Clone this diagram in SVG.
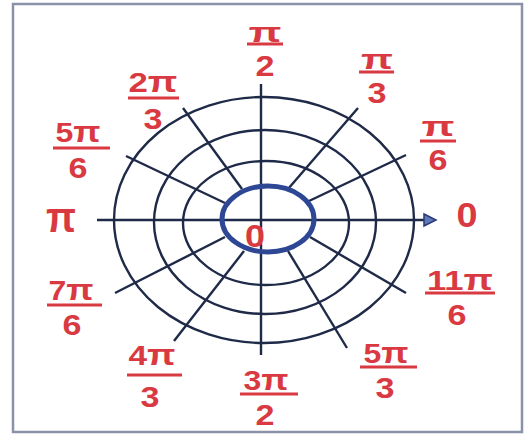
<svg xmlns="http://www.w3.org/2000/svg" width="531" height="437" viewBox="0 0 531 437">
<defs>
<style>
.grid{fill:none;stroke:#1f2a48;stroke-width:2.4}
.spoke{stroke:#1f2a48;stroke-width:2.4;fill:none}
.lbl{font-family:"Liberation Sans","Open Sans",sans-serif;font-weight:bold;fill:#d93a42;text-anchor:middle}
.num{font-size:27px}
.p{font-size:30px}
.den{font-size:29px}
.bar{stroke:#d93a42;stroke-width:3}
</style>
</defs>
<rect x="0" y="0" width="531" height="437" fill="#ffffff"/>
<rect x="13" y="4" width="509" height="428" fill="none" stroke="#8a92aa" stroke-width="2.5"/>
<g id="grid">
<ellipse class="grid" cx="264" cy="220" rx="150" ry="123"/>
<ellipse class="grid" cx="265" cy="222" rx="111" ry="92"/>
<ellipse class="grid" cx="266" cy="223" rx="83" ry="62"/>
</g>
<g id="connectors">
<line class="spoke" x1="97" y1="220" x2="428" y2="220"/>
<path d="M424 214 L436 220 L424 226 Z" fill="#5d78bb" stroke="#2a3a72" stroke-width="1.5"/>
<line class="spoke" x1="261" y1="84" x2="261" y2="355"/>
<line class="spoke" x1="183" y1="108" x2="242" y2="189"/>
<line class="spoke" x1="358" y1="108" x2="288" y2="189"/>
<line class="spoke" x1="126" y1="156" x2="225" y2="203"/>
<line class="spoke" x1="406" y1="155" x2="309" y2="201"/>
<line class="spoke" x1="115" y1="293" x2="225" y2="237"/>
<line class="spoke" x1="406" y1="293" x2="310" y2="237"/>
<line class="spoke" x1="174" y1="341" x2="244" y2="251"/>
<line class="spoke" x1="347" y1="348" x2="288" y2="251"/>
</g>
<g id="pole">
<ellipse cx="268" cy="219" rx="46" ry="33" fill="none" stroke="#2e4795" stroke-width="5"/>
<text class="lbl" x="255" y="247" font-size="31" textLength="20" lengthAdjust="spacingAndGlyphs">0</text>
</g>
<g id="l-pi2">
<text class="lbl num" x="265" y="42" textLength="33" lengthAdjust="spacingAndGlyphs">π</text>
<line class="bar" x1="247" y1="44" x2="283" y2="44"/>
<text class="lbl den" x="265" y="76" textLength="19" lengthAdjust="spacingAndGlyphs">2</text>
</g>
<g id="l-pi3">
<text class="lbl num" x="377" y="69" textLength="32" lengthAdjust="spacingAndGlyphs">π</text>
<line class="bar" x1="359" y1="72" x2="394" y2="72"/>
<text class="lbl den" x="377" y="103" textLength="19" lengthAdjust="spacingAndGlyphs">3</text>
</g>
<g id="l-pi6">
<text class="lbl num" x="438" y="136" textLength="33" lengthAdjust="spacingAndGlyphs">π</text>
<line class="bar" x1="420" y1="141" x2="456" y2="141"/>
<text class="lbl den" x="438" y="170" textLength="19" lengthAdjust="spacingAndGlyphs">6</text>
</g>
<g id="l-0">
<text class="lbl" x="467" y="227" font-size="35" textLength="21" lengthAdjust="spacingAndGlyphs">0</text>
</g>
<g id="l-pi">
<text class="lbl" x="61" y="232" font-size="42" textLength="30" lengthAdjust="spacingAndGlyphs">π</text>
</g>
<g id="l-2pi3">
<text class="lbl num" x="153" y="92" textLength="49" lengthAdjust="spacingAndGlyphs">2<tspan class="p">π</tspan></text>
<line class="bar" x1="128" y1="98" x2="179" y2="98"/>
<text class="lbl den" x="153" y="129" textLength="19" lengthAdjust="spacingAndGlyphs">3</text>
</g>
<g id="l-5pi6">
<text class="lbl num" x="78" y="142" textLength="45" lengthAdjust="spacingAndGlyphs">5<tspan class="p">π</tspan></text>
<line class="bar" x1="53" y1="148" x2="110" y2="148"/>
<text class="lbl den" x="78" y="178" textLength="19" lengthAdjust="spacingAndGlyphs">6</text>
</g>
<g id="l-7pi6">
<text class="lbl num" x="71" y="300" textLength="45" lengthAdjust="spacingAndGlyphs">7<tspan class="p">π</tspan></text>
<line class="bar" x1="47" y1="305" x2="102" y2="305"/>
<text class="lbl den" x="72" y="335" textLength="19" lengthAdjust="spacingAndGlyphs">6</text>
</g>
<g id="l-4pi3">
<text class="lbl num" x="152" y="365" textLength="47" lengthAdjust="spacingAndGlyphs">4<tspan class="p">π</tspan></text>
<line class="bar" x1="127" y1="375" x2="182" y2="375"/>
<text class="lbl den" x="150" y="407" textLength="19" lengthAdjust="spacingAndGlyphs">3</text>
</g>
<g id="l-3pi2">
<text class="lbl num" x="266" y="390" textLength="45" lengthAdjust="spacingAndGlyphs">3<tspan class="p">π</tspan></text>
<line class="bar" x1="240" y1="394" x2="298" y2="394"/>
<text class="lbl den" x="265" y="425" textLength="19" lengthAdjust="spacingAndGlyphs">2</text>
</g>
<g id="l-5pi3">
<text class="lbl num" x="386" y="363" textLength="45" lengthAdjust="spacingAndGlyphs">5<tspan class="p">π</tspan></text>
<line class="bar" x1="360" y1="367" x2="417" y2="367"/>
<text class="lbl den" x="385" y="398" textLength="19" lengthAdjust="spacingAndGlyphs">3</text>
</g>
<g id="l-11pi6">
<text class="lbl num" x="460" y="290" textLength="66" lengthAdjust="spacingAndGlyphs">11<tspan class="p">π</tspan></text>
<line class="bar" x1="425" y1="293" x2="495" y2="293"/>
<text class="lbl den" x="457" y="325" textLength="19" lengthAdjust="spacingAndGlyphs">6</text>
</g>
</svg>
